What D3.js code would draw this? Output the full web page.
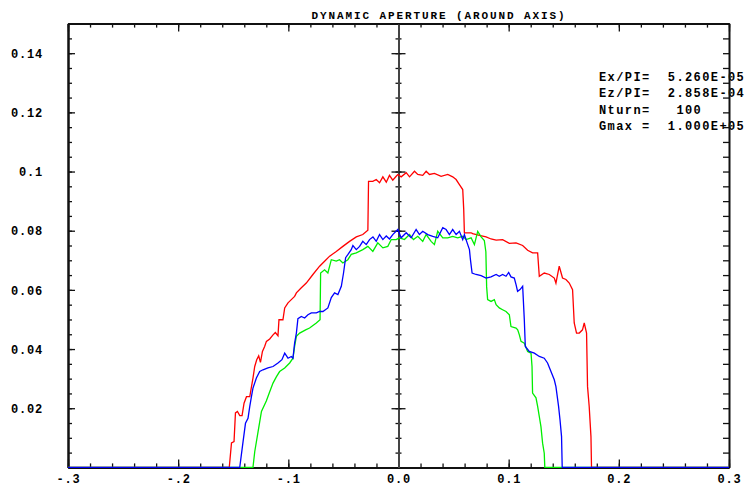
<!DOCTYPE html>
<html>
<head>
<meta charset="utf-8">
<script src="https://cdn.jsdelivr.net/npm/d3@7"></script>
<style>
  html, body { margin: 0; padding: 0; background: #fff; }
  svg { display: block; }
  .lbl { font-family: "Liberation Mono", "DejaVu Sans Mono", monospace; font-weight: bold; fill: #000; }
</style>
</head>
<body>
<svg id="chart" width="749" height="491"></svg>
<script>
// ---- data ----
const titleText = "DYNAMIC APERTURE (AROUND AXIS)";
const infoLines = ["Ex/PI=  5.260E-05", "Ez/PI=  2.858E-04", "Nturn=   100", "Gmax =  1.000E+05"];

const yTickValues = [0.02, 0.04, 0.06, 0.08, 0.10, 0.12, 0.14];
const yTickLabels = ["0.02", "0.04", "0.06", "0.08", "0.1", "0.12", "0.14"];
const xTickValues = [-0.3, -0.2, -0.1, 0.0, 0.1, 0.2, 0.3];
const xTickLabels = ["-.3", "-.2", "-.1", "0.0", "0.1", "0.2", "0.3"];

const redX = [-0.3, -0.1536, -0.1516, -0.1493, -0.1480, -0.1462, -0.1441, -0.1420, -0.1402, -0.1380, -0.1350,
  -0.1321, -0.1305, -0.1287, -0.1269, -0.1253, -0.1235, -0.1215, -0.1199, -0.1169, -0.1139, -0.1118, -0.1094,
  -0.1085, -0.1049, -0.1033, -0.1003, -0.0973, -0.0943, -0.0927, -0.0882, -0.0837, -0.0777, -0.0716, -0.0671,
  -0.0625, -0.0565, -0.0505, -0.0444, -0.0383, -0.0324, -0.0278, -0.0272, -0.0233, -0.0202, -0.0172, -0.0142,
  -0.0111, -0.0082, -0.0052, -0.0021, -0.0006, 0.0024, 0.0070, 0.0100, 0.0145, 0.0175, 0.0220, 0.0251, 0.0281,
  0.0326, 0.0387, 0.0447, 0.0492, 0.0523, 0.0553, 0.0583, 0.0592, 0.0598, 0.0659, 0.0673, 0.0734, 0.0795, 0.0840,
  0.0886, 0.0945, 0.1006, 0.1067, 0.1127, 0.1172, 0.1217, 0.1263, 0.1278, 0.1323, 0.1369, 0.1414, 0.1429, 0.1459,
  0.1489, 0.1520, 0.1550, 0.1580, 0.1595, 0.1616, 0.1641, 0.1670, 0.1686, 0.1707, 0.1716, 0.1731, 0.1747, 0.1752, 0.3];
const redY = [0, 0, 0.0083, 0.0087, 0.0184, 0.0189, 0.0175, 0.0175, 0.0217, 0.0239, 0.0239,
  0.0302, 0.0341, 0.0364, 0.0377, 0.0355, 0.0392, 0.0409, 0.0426, 0.0434, 0.0448, 0.0456, 0.0445,
  0.0499, 0.0499, 0.0539, 0.0556, 0.0567, 0.0578, 0.0590, 0.0607, 0.0623, 0.0652, 0.0680, 0.0697,
  0.0714, 0.0730, 0.0747, 0.0764, 0.0779, 0.0787, 0.0802, 0.0967, 0.0967, 0.0973, 0.0962, 0.0982,
  0.0964, 0.0987, 0.0971, 0.0984, 0.0990, 0.0982, 0.0996, 0.0982, 0.1001, 0.0990, 0.0987, 0.1001, 0.0990,
  0.0994, 0.0984, 0.0990, 0.0982, 0.0973, 0.0956, 0.0939, 0.0872, 0.0793, 0.0793, 0.0790, 0.0784, 0.0779, 0.0772,
  0.0768, 0.0770, 0.0757, 0.0759, 0.0750, 0.0734, 0.0725, 0.0725, 0.0646, 0.0657, 0.0652, 0.0640, 0.0623, 0.0680,
  0.0640, 0.0635, 0.0623, 0.0601, 0.0488, 0.0454, 0.0454, 0.0465, 0.0488, 0.0454, 0.0273, 0.0206, 0.0104, 0, 0];

const greenX = [-0.3, -0.1321, -0.1305, -0.1275, -0.1244, -0.1199, -0.1169, -0.1139, -0.1109, -0.1079, -0.1033,
  -0.0988, -0.0958, -0.0943, -0.0927, -0.0897, -0.0843, -0.0807, -0.0746, -0.0712, -0.0707, -0.0671, -0.0641,
  -0.0610, -0.0565, -0.0535, -0.0505, -0.0460, -0.0429, -0.0383, -0.0324, -0.0278, -0.0233, -0.0188, -0.0142,
  -0.0097, -0.0066, -0.0021, 0.0009, 0.0054, 0.0100, 0.0136, 0.0175, 0.0220, 0.0251, 0.0296, 0.0326, 0.0356,
  0.0402, 0.0447, 0.0492, 0.0537, 0.0583, 0.0614, 0.0659, 0.0689, 0.0719, 0.0750, 0.0779, 0.0793, 0.0800, 0.0809,
  0.0840, 0.0870, 0.0886, 0.0915, 0.0945, 0.0976, 0.1006, 0.1021, 0.1067, 0.1082, 0.1097, 0.1112, 0.1142, 0.1172,
  0.1203, 0.1212, 0.1217, 0.1248, 0.1263, 0.1278, 0.1293, 0.1308, 0.1323, 0.1328, 0.3];
const greenY = [0, 0, 0.0053, 0.0120, 0.0189, 0.0225, 0.0256, 0.0285, 0.0306, 0.0324, 0.0336,
  0.0353, 0.0369, 0.0409, 0.0443, 0.0454, 0.0465, 0.0471, 0.0488, 0.0499, 0.0657, 0.0668, 0.0657,
  0.0702, 0.0697, 0.0702, 0.0691, 0.0702, 0.0720, 0.0725, 0.0736, 0.0747, 0.0730, 0.0759, 0.0742,
  0.0747, 0.0770, 0.0770, 0.0776, 0.0770, 0.0787, 0.0770, 0.0781, 0.0764, 0.0787, 0.0764, 0.0753, 0.0798,
  0.0776, 0.0776, 0.0781, 0.0776, 0.0781, 0.0770, 0.0776, 0.0753, 0.0798, 0.0779, 0.0767, 0.0729, 0.0611, 0.0567,
  0.0561, 0.0567, 0.0550, 0.0539, 0.0533, 0.0527, 0.0516, 0.0476, 0.0471, 0.0465, 0.0448, 0.0426, 0.0420, 0.0392,
  0.0386, 0.0341, 0.0251, 0.0235, 0.0206, 0.0172, 0.0138, 0.0082, 0.0048, 0, 0];

const blueX = [-0.3, -0.1441, -0.1411, -0.1389, -0.1366, -0.1350, -0.1335, -0.1321, -0.1290, -0.1260, -0.1230,
  -0.1185, -0.1139, -0.1094, -0.1058, -0.1033, -0.1003, -0.0973, -0.0958, -0.0943, -0.0927, -0.0913, -0.0882,
  -0.0852, -0.0822, -0.0791, -0.0746, -0.0716, -0.0686, -0.0641, -0.0610, -0.0580, -0.0550, -0.0519, -0.0499,
  -0.0480, -0.0460, -0.0429, -0.0414, -0.0383, -0.0353, -0.0324, -0.0293, -0.0263, -0.0232, -0.0202, -0.0172,
  -0.0142, -0.0111, -0.0082, -0.0052, -0.0006, 0.0024, 0.0070, 0.0115, 0.0160, 0.0190, 0.0220, 0.0266, 0.0311,
  0.0356, 0.0402, 0.0432, 0.0462, 0.0492, 0.0523, 0.0553, 0.0583, 0.0598, 0.0623, 0.0644, 0.0653, 0.0668, 0.0704,
  0.0750, 0.0795, 0.0840, 0.0886, 0.0915, 0.0945, 0.0976, 0.1000, 0.1021, 0.1051, 0.1067, 0.1081, 0.1103, 0.1127,
  0.1142, 0.1151, 0.1187, 0.1233, 0.1278, 0.1323, 0.1353, 0.1384, 0.1414, 0.1429, 0.1453, 0.1466, 0.1480, 0.1486, 0.3];
const blueY = [0, 0, 0.0087, 0.0149, 0.0166, 0.0206, 0.0239, 0.0268, 0.0302, 0.0324, 0.0330,
  0.0336, 0.0341, 0.0353, 0.0364, 0.0386, 0.0369, 0.0375, 0.0369, 0.0420, 0.0454, 0.0503, 0.0510,
  0.0505, 0.0516, 0.0522, 0.0522, 0.0527, 0.0527, 0.0539, 0.0574, 0.0590, 0.0584, 0.0612, 0.0657,
  0.0709, 0.0719, 0.0736, 0.0750, 0.0736, 0.0747, 0.0764, 0.0753, 0.0770, 0.0779, 0.0764, 0.0787,
  0.0770, 0.0782, 0.0772, 0.0787, 0.0804, 0.0776, 0.0793, 0.0776, 0.0804, 0.0787, 0.0798, 0.0787, 0.0781,
  0.0776, 0.0810, 0.0804, 0.0787, 0.0804, 0.0787, 0.0798, 0.0770, 0.0787, 0.0759, 0.0736, 0.0702, 0.0657, 0.0652,
  0.0648, 0.0640, 0.0644, 0.0652, 0.0646, 0.0652, 0.0646, 0.0659, 0.0644, 0.0640, 0.0618, 0.0595, 0.0601, 0.0612,
  0.0499, 0.0409, 0.0392, 0.0386, 0.0375, 0.0369, 0.0353, 0.0324, 0.0296, 0.0273, 0.0206, 0.0161, 0.0104, 0, 0];

const series = [
  { color: "#ff0000", xs: redX, ys: redY },
  { color: "#00ee00", xs: greenX, ys: greenY },
  { color: "#0000ff", xs: blueX, ys: blueY }
];

// ---- layout ----
const svg = d3.select("#chart");
const plotLeft = 68, plotRight = 729, plotTop = 23.6, plotBottom = 467.4;
const x = d3.scaleLinear().domain([-0.3, 0.3]).range([plotLeft, plotRight]);
const y = d3.scaleLinear().domain([0, 0.15]).range([plotBottom, plotTop]);

const yMinor = d3.range(0, 31).map(i => +(i * 0.005).toFixed(3));
const xMinor = d3.range(0, 31).map(i => +(-0.3 + i * 0.02).toFixed(3));
const yMajor = yTickValues;
const xMajor = xTickValues;

// title
svg.append("text").attr("class", "lbl")
  .attr("x", 439).attr("y", 19)
  .attr("text-anchor", "middle")
  .style("font-size", "11px").style("letter-spacing", "1.9px")
  .text(titleText);

// info block
svg.append("g").selectAll("text").data(infoLines).join("text")
  .attr("class", "lbl")
  .attr("x", 599).attr("y", (d, i) => 80.7 + i * 16.5)
  .style("font-size", "12px").style("letter-spacing", "1.4px")
  .style("white-space", "pre")
  .text(d => d);

// axes helper
function styleAxis(g, w, col) {
  g.selectAll("path.domain").attr("stroke", col || "#111").attr("stroke-width", 2);
  g.selectAll(".tick line").attr("stroke", "#111").attr("stroke-width", w);
}

// left axis: minor + major ticks with labels
const gl = svg.append("g").attr("transform", `translate(${plotLeft},0)`);
gl.call(d3.axisLeft(y).tickValues(yMinor).tickSize(-4).tickSizeOuter(0).tickFormat(""));
styleAxis(gl, 1.3);
const glM = svg.append("g").attr("transform", `translate(${plotLeft},0)`);
glM.call(d3.axisLeft(y).tickValues(yMajor).tickSize(-7).tickSizeOuter(0).tickPadding(25)
  .tickFormat((d, i) => yTickLabels[i]));
styleAxis(glM, 1.3);
glM.selectAll(".tick text").attr("class", "lbl").attr("dy", "0.35em")
  .style("font-size", "12px").style("letter-spacing", "0.8px").attr("text-anchor", "end");

// right axis
const gr = svg.append("g").attr("transform", `translate(${plotRight},0)`);
gr.call(d3.axisRight(y).tickValues(yMinor).tickSize(-6).tickSizeOuter(0).tickFormat(""));
styleAxis(gr, 1.3);

// bottom axis with labels
const gb = svg.append("g").attr("transform", `translate(0,${plotBottom})`);
gb.call(d3.axisBottom(x).tickValues(xMinor).tickSize(-4).tickSizeOuter(0).tickFormat(""));
styleAxis(gb, 1.3);
const gbM = svg.append("g").attr("transform", `translate(0,${plotBottom})`);
gbM.call(d3.axisBottom(x).tickValues(xMajor).tickSize(-8).tickSizeOuter(0).tickPadding(7.5)
  .tickFormat((d, i) => xTickLabels[i]));
styleAxis(gbM, 1.3);
gbM.selectAll(".tick text").attr("class", "lbl")
  .style("font-size", "12px").style("letter-spacing", "0.8px");

// top axis
const gt = svg.append("g").attr("transform", `translate(0,${plotTop})`);
gt.call(d3.axisTop(x).tickValues(xMinor).tickSize(-4).tickSizeOuter(0).tickFormat(""));
styleAxis(gt, 1.3);
const gtM = svg.append("g").attr("transform", `translate(0,${plotTop})`);
gtM.call(d3.axisTop(x).tickValues(xMajor).tickSize(-8).tickSizeOuter(0).tickFormat(""));
styleAxis(gtM, 1.3);

// central vertical axis at x = 0, ticks crossing both sides
const cx = x(0);
[[yMinor, 3], [yMajor.concat([0.15]), 7]].forEach(([vals, len]) => {
  const a = svg.append("g").attr("transform", `translate(${cx},0)`);
  a.call(d3.axisLeft(y).tickValues(vals).tickSize(len).tickSizeOuter(0).tickFormat(""));
  styleAxis(a, 1.3, "#444");
  const b = svg.append("g").attr("transform", `translate(${cx},0)`);
  b.call(d3.axisRight(y).tickValues(vals).tickSize(len).tickSizeOuter(0).tickFormat(""));
  styleAxis(b, 1.3, "#444");
});

// curves
const line = d3.line().x(d => x(d[0])).y(d => y(d[1]));
svg.append("g").selectAll("path").data(series).join("path")
  .attr("d", s => line(s.xs.map((v, i) => [v, s.ys[i]])))
  .attr("fill", "none")
  .attr("stroke", s => s.color)
  .attr("stroke-width", 1.3)
  .attr("stroke-linejoin", "miter");
</script>
</body>
</html>
